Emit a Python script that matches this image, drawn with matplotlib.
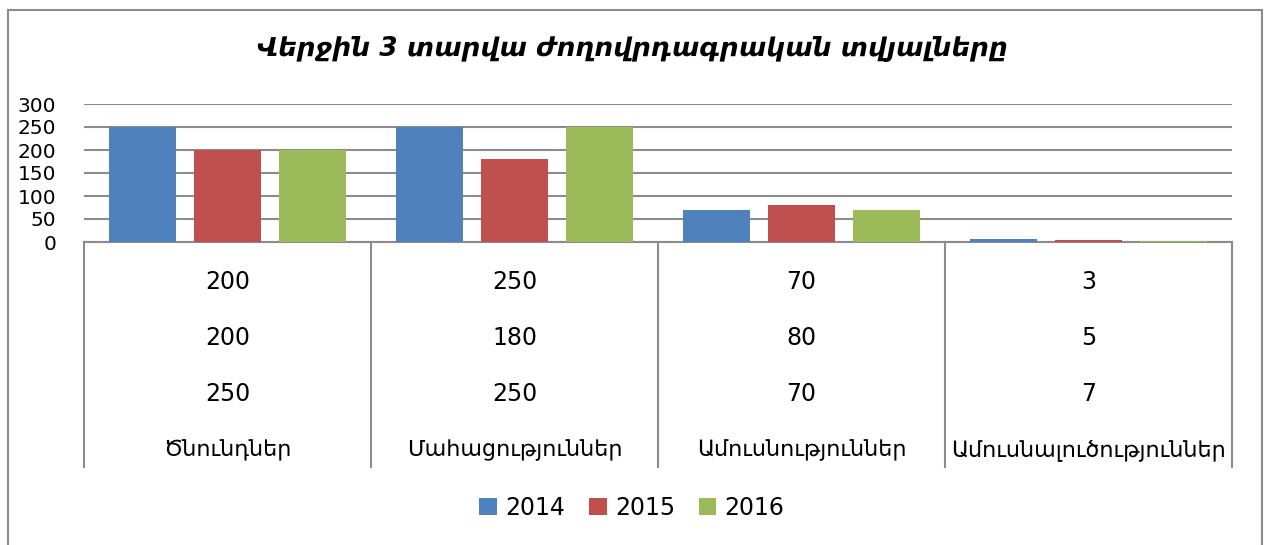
import matplotlib.pyplot as plt
import matplotlib.transforms as mtransforms
from matplotlib.patches import Rectangle
import numpy as np

# Data
categories = ["Ծնունդներ", "Մահացություններ", "Ամուսնություններ", "Ամուսնալուծություններ"]
years = ["2014", "2015", "2016"]
values_2014 = [250, 250, 70, 7]
values_2015 = [200, 180, 80, 5]
values_2016 = [200, 250, 70, 3]
# values shown in the table under the chart (as printed)
table_rows = [
    [200, 250, 70, 3],
    [200, 180, 80, 5],
    [250, 250, 70, 7],
]
title = "Վերջին 3 տարվա ժողովրդագրական տվյալները"
colors = ["#4F81BD", "#C0504D", "#9BBB59"]
grid_color = "#8C8C8C"

plt.rcParams['font.family'] = ['DejaVu Sans']

W, H = 1264, 545
fig = plt.figure(figsize=(W / 100, H / 100), dpi=100)

def fy(py):
    return 1 - py / H

ax = fig.add_axes([84 / W, fy(242), (1232 - 84) / W, (242 - 104) / H])

# outer chart border
fig.patches.append(Rectangle((8 / W, fy(600)), (1262 - 8) / W, (600 - 10) / H,
                             transform=fig.transFigure, fill=False,
                             edgecolor="#8C8C8C", linewidth=1.5))

x = np.arange(len(categories)) + 0.5
width = 0.233
step = 0.295
for i, (vals, yr) in enumerate(zip([values_2014, values_2015, values_2016], years)):
    ax.bar(x + (i - 1) * step, vals, width, color=colors[i], label=yr, zorder=3)

ax.set_xlim(0, len(categories))
ax.set_ylim(0, 300)
ax.set_yticks(range(0, 301, 50))
ax.yaxis.grid(True, color=grid_color, linewidth=1.5, zorder=0)
ax.set_axisbelow(True)
ax.tick_params(axis='y', length=0, labelsize=14.5, pad=20)
ax.tick_params(axis='x', length=0, labelbottom=False)
for s in ['left', 'right', 'top']:
    ax.spines[s].set_visible(False)
ax.spines['bottom'].set_color(grid_color)
ax.spines['bottom'].set_linewidth(1.5)

# table under the chart
trans = mtransforms.blended_transform_factory(ax.transData, fig.transFigure)
for k in range(len(categories) + 1):
    ax.plot([k, k], [fy(242), fy(467)], color=grid_color, linewidth=1.5,
            transform=trans, clip_on=False)
row_y = [282, 338, 394]
for r, row in enumerate(table_rows):
    for j, v in enumerate(row):
        ax.text(x[j], fy(row_y[r]), str(v), transform=trans, ha='center',
                va='center', fontsize=17)
for j, cat in enumerate(categories):
    ax.text(x[j], fy(450), cat, transform=trans, ha='center', va='center',
            fontsize=16)

fig.text(0.5, fy(48), title, ha='center', va='center', fontsize=19,
         fontweight='bold', fontstyle='italic')

fig.legend(loc='center', bbox_to_anchor=(0.5, fy(508)), ncol=3, frameon=False,
           fontsize=17, handlelength=0.75, handleheight=0.75, handletextpad=0.35,
           columnspacing=1.0)

fig.savefig("out.png", dpi=100)
